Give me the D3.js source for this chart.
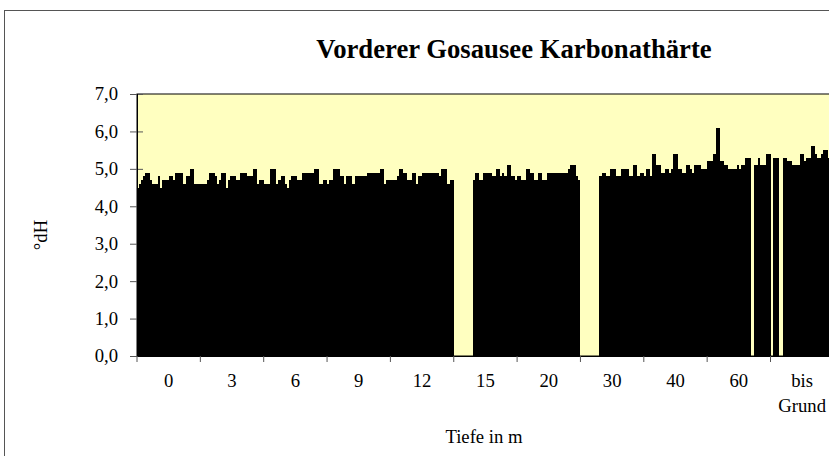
<!DOCTYPE html>
<html>
<head>
<meta charset="utf-8">
<script src="https://cdn.jsdelivr.net/npm/d3@7"></script>
<style>
  body { margin: 0; background: #fff; }
  text { font-family: "Liberation Serif", "Times New Roman", serif; fill: #000; }
</style>
</head>
<body>
<svg id="chart" width="829" height="456"></svg>
<script>
// Karbonathärte in °dH, one value per measurement (30 series) for each depth
const categories = ["0", "3", "6", "9", "12", "15", "20", "30", "40", "60", "bis Grund"];

const w0 = [4.5, 4.6, 4.7, 4.8, 4.9, 4.9, 4.7, 4.6, 4.6, 4.6, 4.8, 4.5, 4.7, 4.7, 4.7, 4.8, 4.8, 4.7, 4.9, 4.9, 4.9, 4.9, 4.6, 4.8, 4.8, 5.0, 5.0, 4.6, 4.6, 4.6];
const w3 = [4.6, 4.6, 4.6, 4.7, 4.9, 4.9, 4.9, 4.8, 4.6, 4.7, 4.9, 4.9, 4.5, 4.7, 4.8, 4.8, 4.8, 4.7, 4.7, 4.9, 4.9, 4.9, 4.8, 4.8, 4.8, 5.0, 5.0, 4.6, 4.7, 4.7];
const w6 = [4.6, 4.6, 4.6, 5.0, 5.0, 5.0, 4.6, 4.7, 4.8, 4.8, 4.6, 4.5, 4.7, 4.8, 4.8, 4.8, 4.7, 4.7, 4.9, 4.9, 4.9, 4.9, 4.9, 4.9, 5.0, 5.0, 4.6, 4.6, 4.7, 4.7];
const w9 = [4.6, 4.7, 4.7, 5.0, 5.0, 5.0, 4.8, 4.8, 4.6, 4.8, 4.8, 4.8, 4.6, 4.8, 4.8, 4.8, 4.8, 4.8, 4.8, 4.9, 4.9, 4.9, 4.9, 4.9, 4.9, 5.0, 5.0, 4.6, 4.7, 4.7];
const w12 = [4.7, 4.7, 4.7, 4.8, 5.0, 5.0, 4.9, 4.9, 4.7, 4.7, 4.9, 4.9, 4.6, 4.8, 4.8, 4.9, 4.9, 4.9, 4.9, 4.9, 4.9, 4.9, 4.9, 4.8, 5.0, 5.0, 5.0, 4.6, 4.7, 4.7];
const w15 = [null, null, null, null, null, null, null, null, null, 4.7, 4.9, 4.9, 4.7, 4.7, 4.9, 4.9, 4.9, 4.9, 4.8, 4.8, 5.0, 5.0, 4.8, 4.9, 4.8, 5.1, 5.1, 4.8, 4.8, 4.7];
const w20 = [4.8, 4.8, 4.7, 4.7, 5.0, 5.0, 4.9, 4.9, 4.7, 4.7, 4.9, 4.9, 4.7, 4.7, 4.9, 4.9, 4.9, 4.9, 4.9, 4.9, 4.9, 4.9, 4.9, 4.9, 5.0, 5.1, 5.1, 5.1, 4.8, 4.7];
const w30 = [null, null, null, null, null, null, null, null, null, 4.8, 4.9, 4.9, 4.8, 4.8, 5.0, 5.0, 5.0, 4.8, 4.8, 5.0, 5.0, 5.0, 5.0, 4.8, 4.8, 5.1, 5.1, 4.8, 4.9, 4.9];
const w40 = [4.8, 5.0, 5.0, 4.8, 5.4, 5.4, 5.1, 5.1, 4.9, 4.9, 5.0, 5.0, 4.9, 5.0, 5.4, 5.4, 5.0, 5.0, 4.9, 4.9, 5.1, 5.1, 5.0, 4.9, 5.1, 5.1, 5.1, 5.0, 5.0, 5.0];
const w60 = [5.2, 5.2, 5.2, 5.4, 6.1, 6.1, 5.2, 5.2, 5.1, 5.1, 5.0, 5.0, 5.0, 5.0, 5.1, 5.0, 5.1, 5.1, 5.3, 5.3, 5.3, null, 5.1, 5.1, 5.3, 5.1, 5.1, 5.1, 5.4, 5.4];
const wGrund = [null, 5.3, 5.3, 5.3, null, null, 5.3, 5.3, 5.2, 5.2, 5.1, 5.1, 5.1, 5.1, 5.4, 5.4, 5.2, 5.3, 5.3, 5.6, 5.6, 5.4, 5.3, 5.3, 5.4, 5.5, 5.5, 5.3, 5.2, 5.2];

const yTicks = [0, 1, 2, 3, 4, 5, 6, 7];

const byDepth = [w0, w3, w6, w9, w12, w15, w20, w30, w40, w60, wGrund];
const nSeries = w0.length;

const svg = d3.select('#chart');
const margin = { left: 137, top: 94, bottom: 100 };
const bandW = 63.35;
const plotRight = margin.left + bandW * categories.length;
const plotBottom = 356;

// chart frame
svg.append('rect')
  .attr('x', 4.5).attr('y', 10.5)
  .attr('width', 900).attr('height', 600)
  .attr('fill', '#fff').attr('stroke', '#555').attr('stroke-width', 1);

const x = d3.scaleBand().domain(categories).range([margin.left, plotRight]).padding(0);
const xs = d3.scaleBand().domain(d3.range(nSeries)).range([0, x.bandwidth()]).padding(0);
const y = d3.scaleLinear().domain([0, 7]).range([plotBottom, margin.top]);

const locale = d3.formatLocale({ decimal: ',', thousands: '.', grouping: [3], currency: ['', ' €'] });
const fmt = locale.format('.1f');

// plot area
svg.append('rect')
  .attr('x', margin.left).attr('y', y(7))
  .attr('width', plotRight - margin.left).attr('height', plotBottom - y(7))
  .attr('fill', '#ffffc0').attr('stroke', '#000').attr('stroke-width', 1);

// y axis (ticks cross the axis)
const yAxis = svg.append('g')
  .attr('transform', `translate(${margin.left},0)`)
  .call(d3.axisLeft(y).tickValues(yTicks).tickFormat(fmt).tickSize(7).tickSizeOuter(0));
yAxis.selectAll('.tick line').attr('x1', 6).attr('stroke', '#555');
yAxis.select('.domain').remove();
yAxis.selectAll('.tick text')
  .attr('x', -19)
  .style('font-family', '"Liberation Serif", serif')
  .style('font-size', '18.7px');

// bars
const groups = svg.append('g').selectAll('g')
  .data(categories)
  .join('g')
  .attr('transform', c => `translate(${x(c)},0)`);

groups.selectAll('rect')
  .data((c, i) => byDepth[i].map((v, s) => ({ s, v })).filter(d => d.v !== null))
  .join('rect')
  .attr('x', d => xs(d.s))
  .attr('width', xs.bandwidth())
  .attr('y', d => y(d.v))
  .attr('height', d => y(0) - y(d.v))
  .attr('fill', '#000')
  .attr('shape-rendering', 'crispEdges');

// y axis line on top
svg.append('line')
  .attr('x1', margin.left + 0.5).attr('x2', margin.left + 0.5)
  .attr('y1', y(7)).attr('y2', plotBottom)
  .attr('stroke', '#000');

// x axis
const xAxis = svg.append('g')
  .attr('transform', `translate(0,${plotBottom})`)
  .call(d3.axisBottom(x).tickSize(6).tickSizeOuter(0));
xAxis.select('.domain').attr('stroke', '#000');
xAxis.selectAll('.tick line')
  .attr('transform', `translate(${-x.bandwidth() / 2},0)`)
  .attr('stroke', '#555');
xAxis.selectAll('.tick text').remove();
xAxis.selectAll('.tick').append('text')
  .attr('text-anchor', 'middle')
  .style('font-family', '"Liberation Serif", serif')
  .style('font-size', '18.7px')
  .attr('fill', '#000')
  .selectAll('tspan')
  .data(c => c.split(' '))
  .join('tspan')
  .attr('x', 0)
  .attr('y', (d, i) => 31 + i * 25)
  .text(d => d);

// title
svg.append('text')
  .attr('x', 514).attr('y', 58)
  .attr('text-anchor', 'middle')
  .style('font-size', '26.7px')
  .style('font-weight', 'bold')
  .text('Vorderer Gosausee Karbonathärte');

// axis titles
svg.append('text')
  .attr('x', 484).attr('y', 443)
  .attr('text-anchor', 'middle')
  .style('font-size', '18.7px')
  .text('Tiefe in m');

svg.append('text')
  .attr('transform', 'translate(40,235) rotate(-90)')
  .attr('text-anchor', 'middle')
  .attr('dominant-baseline', 'central')
  .style('font-size', '18.7px')
  .text('°dH');
</script>
</body>
</html>
